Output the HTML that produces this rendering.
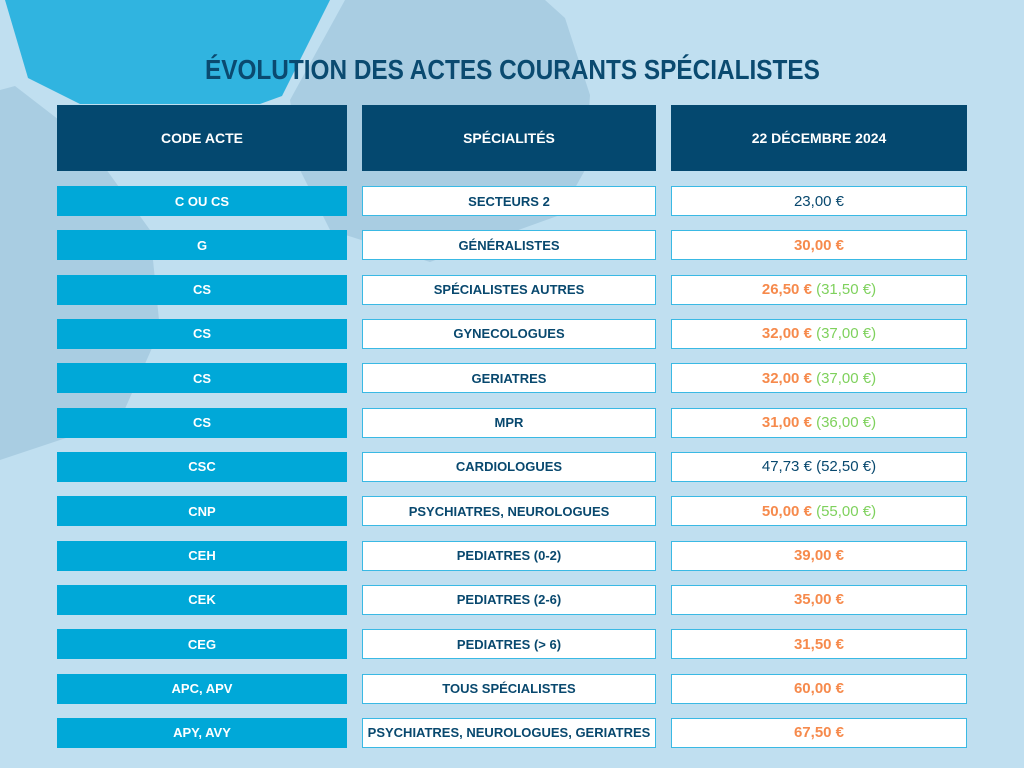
<!DOCTYPE html>
<html><head><meta charset="utf-8"><style>
body{margin:0;width:1024px;height:768px;background:#c0dff0;position:relative;overflow:hidden;font-family:"Liberation Sans",sans-serif}
.t{position:absolute;left:0;width:1024px;top:54px;text-align:center;color:#0a4a70;font-weight:bold;font-size:28px}
.t span{display:inline-block;transform:scaleX(.87)}
.c{position:absolute;box-sizing:border-box;display:flex;align-items:center;justify-content:center;font-weight:bold;font-size:13px}
.h{background:#04486f;color:#fff;top:105px;height:66px;font-size:14px}
.k{background:#00a8d8;color:#fff;height:30px}
.s{background:#fff;border:1.5px solid #3ab9e4;color:#08486e;height:30px}
.v{background:#fff;border:1.5px solid #3ab9e4;color:#08486e;height:30px;font-weight:normal;font-size:15px}
.o{color:#f68a4c;font-weight:bold}.g{color:#7ed15c}
</style></head><body>
<svg style="position:absolute;left:0;top:0" width="1024" height="768">
<polygon points="0,90 15,86 85,140 150,230 160,330 120,420 0,460" fill="#a9cde2"/>
<polygon points="345,0 545,0 565,18 590,95 585,170 560,215 430,262 330,230 300,170 290,100" fill="#a9cde2"/>
<polygon points="5,0 330,0 282,96 260,104 80,104 28,78" fill="#30b4e0"/>
</svg>
<div class="t"><span>ÉVOLUTION DES ACTES COURANTS SPÉCIALISTES</span></div>
<div class="c h" style="left:57px;width:290px">CODE ACTE</div>
<div class="c h" style="left:362px;width:294px">SPÉCIALITÉS</div>
<div class="c h" style="left:671px;width:296px">22 DÉCEMBRE 2024</div>
<script>
const codes=["C OU CS","G","CS","CS","CS","CS","CSC","CNP","CEH","CEK","CEG","APC, APV","APY, AVY"];
const specs=["SECTEURS 2","GÉNÉRALISTES","SPÉCIALISTES AUTRES","GYNECOLOGUES","GERIATRES","MPR","CARDIOLOGUES","PSYCHIATRES, NEUROLOGUES","PEDIATRES (0-2)","PEDIATRES (2-6)","PEDIATRES (> 6)","TOUS SPÉCIALISTES","PSYCHIATRES, NEUROLOGUES, GERIATRES"];
const prices=["23,00 €","30,00 €","26,50 €","32,00 €","32,00 €","31,00 €","47,73 €","50,00 €","39,00 €","35,00 €","31,50 €","60,00 €","67,50 €"];
const extras=["","","31,50 €","37,00 €","37,00 €","36,00 €","52,50 €","55,00 €","","","","",""];
const highlight=[0,1,1,1,1,1,0,1,1,1,1,1,1];
const root=document.body;
codes.forEach((c,i)=>{
 const y=186+i*44.33;
 const a=document.createElement('div');a.className='c k';a.style.cssText=`left:57px;width:290px;top:${y}px`;a.textContent=c;
 
 
 const b=document.createElement('div');b.className='c s';b.style.cssText=`left:362px;width:294px;top:${y}px`;b.textContent=specs[i];
 
 
 const v=document.createElement('div');v.className='c v';v.style.cssText=`left:671px;width:296px;top:${y}px`;
 
 
 let h=highlight[i]?`<span class="o">${prices[i]}</span>`:prices[i];
 if(extras[i])h+=`&nbsp;<span class="${highlight[i]?'g':''}">(${extras[i]})</span>`;
 v.innerHTML=h;
 root.append(a,b,v);
});
</script>
</body></html>
